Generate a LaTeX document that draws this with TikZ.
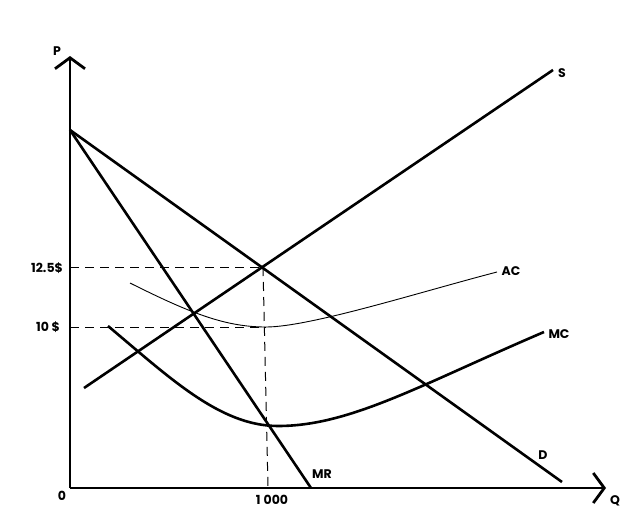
\documentclass[tikz,border=0pt]{standalone}
\usepackage{fontspec}
\setmainfont{Poppins}
\usetikzlibrary{arrows.meta}
\begin{document}
\begin{tikzpicture}[x=1pt,y=-1pt,
  axis/.style={line width=2.8pt,-{Straight Barb[length=11pt,width=30pt,line width=2.8pt]}},
  curve/.style={line width=2.6pt},
  thincurve/.style={line width=0.9pt},
  guide/.style={line width=1pt,dash pattern=on 9pt off 6pt},
  lbl/.style={font=\bfseries\fontsize{12.5}{14}\selectfont,inner sep=0pt}]
\useasboundingbox (0,0) rectangle (639,530);
\fill[white] (0,0) rectangle (639,530);
% named points
\coordinate (O) at (70,488);
\coordinate (Ptip) at (70,56);
\coordinate (Qtip) at (606,488);
\coordinate (Top) at (70,130);
\coordinate (Dend) at (562,482);
\coordinate (MRend) at (311,488);
\coordinate (Sstart) at (84,388);
\coordinate (Send) at (553,70);
\coordinate (E) at (263,267);
\coordinate (Y125) at (70,267);
\coordinate (Y10) at (70,327);
\coordinate (ACmin) at (266,327);
\coordinate (Xq) at (268,488);
% axes
\draw[axis] (O) -- (Ptip);
\draw[axis] (O) -- (Qtip);
% demand, MR, supply
\draw[curve] (Top) -- (Dend);
\draw[curve] (Top) -- (MRend);
\draw[curve] (Sstart) -- (Send);
% AC
\draw[thincurve] (130,283) .. controls (190,313) and (225,327) .. (ACmin)
  .. controls (310,327) and (420,292) .. (497,272);
% MC
\draw[curve] (108,326) .. controls (170,378) and (220,426) .. (278,426)
  .. controls (350,426) and (420,385) .. (544,332);
% guides
\draw[guide] (Y125) -- (E);
\draw[guide] (Y10) -- (ACmin);
\draw[guide] (E) -- (Xq);
% labels
\node[lbl] (lP) at (57,51) {P};
\node[lbl] (lQ) at (615,501) {Q};
\node[lbl] (l0) at (62,496) {0};
\node[lbl] (lq) at (272,500) {1\hspace{3pt}000};
\node[lbl] (l125) at (47,268) {12.5\$};
\node[lbl] (l10) at (48,327) {10 \$};
\node[lbl] (lS) at (562,73) {S};
\node[lbl] (lAC) at (511,271) {AC};
\node[lbl] (lMC) at (559,334) {MC};
\node[lbl] (lD) at (543,455) {D};
\node[lbl] (lMR) at (322,474) {MR};
\end{tikzpicture}
\end{document}
